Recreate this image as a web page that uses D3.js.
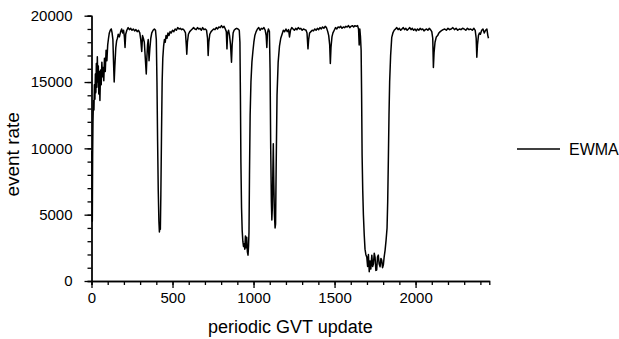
<!DOCTYPE html>
<html>
<head>
<meta charset="utf-8">
<script src="https://cdn.jsdelivr.net/npm/d3@7"></script>
<style>
  body { margin: 0; background: #fff; }
  text { font-family: "Liberation Sans", Arial, sans-serif; fill: #000; }
</style>
</head>
<body>
<div id="wrapper"></div>
<script>
// tick values
const xTicks = [0, 500, 1000, 1500, 2000]
const xMinorTicks = d3.range(0, 2500, 100)
const yTicks = [0, 5000, 10000, 15000, 20000]
const yMinorTicks = d3.range(0, 20001, 1000)

const seriesName = "EWMA"

// [periodic GVT update, event rate]
const ewmaPoints = [
  [2,9800],[5,4500],[7,9500],[9,12000],[12,13600],[15,12900],[18,14800],
  [21,13700],[24,15600],[27,14200],[30,16400],[33,14600],[36,16900],[39,15000],[42,16200],
  [45,14100],[48,15800],[52,13600],[56,15900],[60,14800],[64,16500],[68,15400],[72,16100],
  [76,15100],[80,16800],[85,15800],[90,17400],[95,16600],[100,17800],[105,18300],[110,18700],
  [116,18900],[122,19000],[127,18700],[132,18200],[136,16500],[140,15000],[144,16200],[150,17600],
  [155,18100],[160,18300],[165,18600],[172,18400],[180,18800],[186,19000],[192,18700],[198,18900],
  [203,18400],[207,17600],[211,18600],[218,18900],[226,19100],[234,18950],[242,19050],[250,18900],
  [258,19000],[266,18850],[274,18950],[282,18800],[290,18900],[298,18700],[304,18200],[310,17300],
  [315,18500],[320,18300],[326,18000],[332,16800],[338,15600],[342,16900],[346,17800],[350,18200],
  [355,16600],[360,17500],[366,18300],[372,18700],[380,18900],[388,19000],[395,18900],[400,18200],
  [404,15000],[408,10500],[412,6800],[416,4500],[419,3700],[422,4100],[425,3900],[428,6500],
  [432,11000],[436,15000],[440,16800],[445,17700],[450,18200],[455,18000],[460,18500],[466,18300],
  [472,18700],[478,18500],[485,18800],[492,18700],[500,18900],[508,18800],[516,19000],[524,18900],
  [532,19100],[540,19000],[548,19050],[556,18950],[564,19000],[572,18900],[580,18700],[585,17800],
  [588,17100],[592,18000],[598,18600],[606,18800],[614,18900],[622,19000],[630,19100],[638,19000],
  [646,18950],[654,19100],[662,19000],[670,19050],[678,18900],[686,19100],[694,18950],[702,19000],
  [710,18900],[716,18300],[720,17000],[724,18000],[730,18600],[738,18800],[746,18900],[754,19000],
  [762,18950],[770,19100],[778,19000],[786,19150],[794,19100],[802,19250],[810,19100],[818,19200],
  [826,19000],[832,18800],[836,17500],[840,18700],[846,18900],[852,18500],[858,17800],[864,16500],
  [868,17800],[874,18700],[880,18900],[888,19000],[896,19050],[904,19000],[912,18900],[916,18000],
  [919,14000],[922,9000],[926,5500],[930,3800],[934,3000],[938,2600],[942,2800],[946,2400],
  [950,3400],[954,2500],[958,3300],[962,2200],[966,1950],[969,2600],[972,3700],[975,8000],
  [979,12500],[984,15000],[990,16500],[996,17300],[1002,18000],[1008,18500],[1016,18800],[1024,19000],
  [1032,19100],[1040,18900],[1048,19050],[1056,19000],[1064,19100],[1072,18900],[1078,18500],[1082,17600],
  [1086,18700],[1092,19000],[1098,18800],[1102,16000],[1106,10000],[1110,6000],[1113,4600],[1116,5500],
  [1119,8000],[1122,10350],[1125,7500],[1129,5000],[1133,4000],[1136,4300],[1140,9000],[1145,14000],
  [1152,16500],[1160,17700],[1168,18300],[1176,18600],[1184,18900],[1192,18800],[1200,19000],[1208,18800],
  [1216,18950],[1222,18400],[1228,18900],[1236,19100],[1244,19000],[1252,18900],[1260,19050],[1268,18950],
  [1276,19100],[1284,19000],[1292,19050],[1300,18900],[1308,19000],[1316,18950],[1324,18900],[1330,18700],
  [1336,17500],[1340,18200],[1346,18700],[1354,18800],[1362,18900],[1370,18850],[1378,19000],[1386,18900],
  [1394,19050],[1402,18950],[1410,19100],[1418,19000],[1426,19150],[1434,19050],[1442,19200],[1450,19100],
  [1458,18800],[1464,18500],[1470,17800],[1474,16400],[1478,17600],[1484,18400],[1490,18700],[1498,18900],
  [1506,19100],[1514,19000],[1522,19150],[1530,19100],[1538,19200],[1546,19050],[1554,19150],[1562,19100],
  [1570,19200],[1578,19150],[1586,19250],[1594,19100],[1602,19200],[1610,19250],[1618,19150],[1626,19250],
  [1634,19200],[1642,19250],[1648,19000],[1652,17800],[1656,19000],[1660,18400],[1664,17400],[1667,14000],
  [1670,9500],[1674,6800],[1678,5000],[1683,3500],[1688,2400],[1693,2000],[1699,1800],[1704,1100],
  [1709,2000],[1714,700],[1719,1500],[1724,900],[1730,1950],[1735,1100],[1740,1300],[1745,2100],
  [1750,1800],[1755,800],[1760,830],[1765,1800],[1770,1950],[1775,1300],[1781,1075],[1786,1700],
  [1791,1580],[1796,1000],[1801,1200],[1806,1800],[1812,2330],[1818,3080],[1824,4000],[1828,6000],
  [1832,9100],[1836,12500],[1840,15000],[1846,17000],[1853,18370],[1860,18700],[1868,18900],[1876,19000],
  [1884,19100],[1892,18950],[1900,19050],[1908,18900],[1916,19000],[1924,19100],[1932,18950],[1940,19050],
  [1948,18900],[1956,19000],[1964,19100],[1972,18950],[1980,19050],[1988,18900],[1996,19000],[2004,18850],
  [2012,19000],[2020,18900],[2028,19050],[2036,18950],[2044,19000],[2052,18850],[2060,18950],[2068,19000],
  [2076,18900],[2084,19050],[2092,18950],[2100,18800],[2106,18300],[2110,16100],[2114,17200],[2120,18000],
  [2128,18400],[2136,18500],[2144,18700],[2152,18800],[2160,18870],[2170,18950],[2180,19000],[2190,18900],
  [2200,19050],[2210,18950],[2220,19000],[2230,19100],[2240,18950],[2250,19050],[2260,18900],[2270,19000],
  [2280,18950],[2290,19050],[2300,19000],[2310,18900],[2320,19050],[2330,18950],[2340,19000],[2350,18900],
  [2360,19050],[2368,18900],[2374,18300],[2378,16870],[2382,17800],[2388,18500],[2394,18700],[2400,18600],
  [2408,18900],[2416,19000],[2424,18700],[2432,18900],[2440,19000],[2446,18500],[2450,18300]
]

const xAccessor = d => d[0]
const yAccessor = d => d[1]

// bounds
const dms = {
  width: 619,
  height: 339,
  margin: { top: 15.7, right: 129.7, bottom: 58, left: 91.5 },
}
dms.boundedWidth = dms.width - dms.margin.left - dms.margin.right
dms.boundedHeight = dms.height - dms.margin.top - dms.margin.bottom

const wrapper = d3.select("#wrapper")
  .append("svg")
  .attr("width", dms.width)
  .attr("height", dms.height)

const bounds = wrapper.append("g")
  .attr("transform", `translate(${dms.margin.left},${dms.margin.top})`)

// scales
const xScale = d3.scaleLinear()
  .domain([0, 2455])
  .range([0, dms.boundedWidth])

const yScale = d3.scaleLinear()
  .domain([0, 20000])
  .range([dms.boundedHeight, 0])

// line
const lineGenerator = d3.line()
  .x(d => xScale(xAccessor(d)))
  .y(d => yScale(yAccessor(d)))

bounds.append("path")
  .attr("d", lineGenerator(ewmaPoints))
  .attr("fill", "none")
  .attr("stroke", "#000")
  .attr("stroke-width", 1.5)
  .attr("stroke-linejoin", "round")

// axes
const styleAxis = g => {
  g.selectAll("path, line").attr("stroke", "#000").attr("stroke-width", 1.3)
  g.selectAll("text").attr("font-size", 15).attr("fill", "#000")
    .attr("font-family", "'Liberation Sans', Arial, sans-serif")
}

const fmt = d3.format("d")

bounds.append("g")
  .attr("transform", `translate(0,${dms.boundedHeight})`)
  .call(d3.axisBottom(xScale).tickValues(xMinorTicks).tickSize(4).tickFormat(""))
  .call(styleAxis)

bounds.append("g")
  .attr("transform", `translate(0,${dms.boundedHeight})`)
  .call(d3.axisBottom(xScale).tickValues(xTicks).tickSize(7).tickSizeOuter(0)
    .tickPadding(4).tickFormat(fmt))
  .call(styleAxis)

bounds.append("g")
  .call(d3.axisLeft(yScale).tickValues(yMinorTicks).tickSize(4).tickFormat(""))
  .call(styleAxis)

bounds.append("g")
  .call(d3.axisLeft(yScale).tickValues(yTicks).tickSize(7).tickSizeOuter(0)
    .tickPadding(12).tickFormat(fmt))
  .call(styleAxis)

// axis labels
bounds.append("text")
  .attr("x", dms.boundedWidth / 2)
  .attr("y", dms.boundedHeight + 52)
  .attr("text-anchor", "middle")
  .attr("font-size", 18)
  .text("periodic GVT update")

bounds.append("text")
  .attr("transform", `translate(${-dms.margin.left + 19},${dms.boundedHeight / 2 + 6}) rotate(-90)`)
  .attr("text-anchor", "middle")
  .attr("font-size", 19)
  .text("event rate")

// legend
const legend = wrapper.append("g")
  .attr("transform", "translate(517,149)")

legend.append("line")
  .attr("x1", 0).attr("x2", 43)
  .attr("stroke", "#000")
  .attr("stroke-width", 1.3)

legend.append("text")
  .attr("x", 52)
  .attr("dy", "0.35em")
  .attr("font-size", 16)
  .text(seriesName)
</script>
</body>
</html>
